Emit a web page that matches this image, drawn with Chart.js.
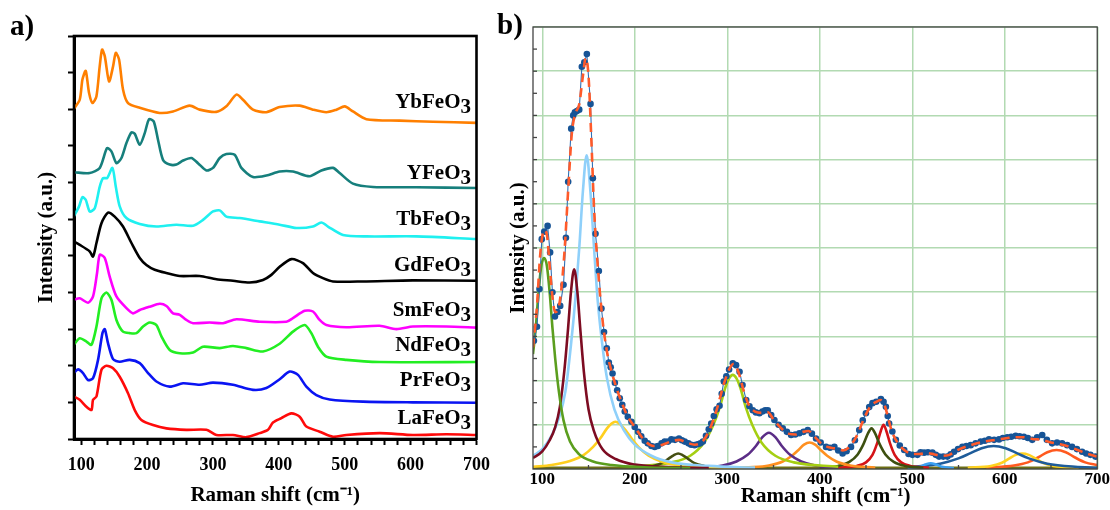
<!DOCTYPE html>
<html><head><meta charset="utf-8">
<script src="https://cdn.jsdelivr.net/npm/chart.js@4.4.0/dist/chart.umd.min.js"></script>
<style>
body{margin:0;background:#fff;width:1110px;height:510px;overflow:hidden;position:relative;font-family:"Liberation Serif","Times New Roman",serif;color:#000}
#wa{position:absolute;left:0;top:0;width:500px;height:510px}
#wb{position:absolute;left:500px;top:0;width:610px;height:510px}
.pl{position:absolute;font-weight:bold;font-size:29px;line-height:29px}
.lab{position:absolute;font-weight:bold;font-size:21px;line-height:21px;white-space:nowrap;right:639px}
.lab span{position:relative;top:5px}
</style></head>
<body>
<div id="wa"><canvas id="ca" width="500" height="510"></canvas></div>
<div id="wb"><canvas id="cb" width="610" height="510"></canvas></div>
<div class="pl" style="left:10px;top:11px">a)</div>
<div class="pl" style="left:497px;top:10px">b)</div>
<div class="lab" style="top:91px">YbFeO<span>3</span></div>
<div class="lab" style="top:162px">YFeO<span>3</span></div>
<div class="lab" style="top:208px">TbFeO<span>3</span></div>
<div class="lab" style="top:254px">GdFeO<span>3</span></div>
<div class="lab" style="top:299px">SmFeO<span>3</span></div>
<div class="lab" style="top:334px">NdFeO<span>3</span></div>
<div class="lab" style="top:369px">PrFeO<span>3</span></div>
<div class="lab" style="top:407px">LaFeO<span>3</span></div>
<script>
// ---------- Panel a data: [Raman shift, offset intensity (a.u.)] ----------
const ybFeO3 = [[88.6,9.01],[97.7,9.26],[101.8,9.81],[106.8,10.05],[111.8,9.45],[117,9.17],[123,9.35],[128,10.17],[131.6,10.63],[135.7,10.45],[142.2,9.76],[148.3,10.17],[152.4,10.54],[157.4,10.36],[163.4,9.54],[171,9.17],[188.8,9.04],[219,8.90],[239.3,8.94],[264.6,9.10],[279.8,8.99],[305,8.93],[320.3,9.08],[335.5,9.40],[345.5,9.26],[360.7,8.99],[381,8.92],[401.2,9.06],[431.6,9.10],[451.7,8.99],[472,8.92],[487.3,8.99],[500,9.08],[512.4,8.94],[532.8,8.73],[583.3,8.69],[633.8,8.66],[699.7,8.63]];
const yFeO3 = [[88.6,7.28],[112.9,7.26],[128.1,7.40],[139.2,7.94],[145.8,7.85],[153.4,7.53],[161,7.67],[168.6,8.08],[176.2,8.37],[181.2,8.33],[188.8,8.03],[196.4,8.35],[202.9,8.73],[210,8.67],[216.5,8.17],[224.1,7.62],[234.3,7.49],[244.5,7.49],[254.5,7.60],[267.2,7.67],[277.2,7.53],[290,7.33],[300,7.40],[310.2,7.67],[320.3,7.78],[332.9,7.76],[343.1,7.40],[360.7,7.15],[381,7.19],[401.2,7.30],[421.4,7.30],[446.7,7.17],[464.5,7.33],[482.1,7.40],[492.3,7.26],[512.4,6.97],[542.8,6.88],[608.6,6.87],[699.7,6.85]];
const tbFeO3 = [[88.6,6.07],[96.7,6.35],[101.8,6.60],[106.8,6.53],[112.9,6.21],[120.5,6.30],[128.1,6.89],[133.1,7.12],[139.2,7.12],[147.3,7.40],[152.4,6.89],[158.4,6.35],[168.6,6.03],[188.8,5.87],[214.1,5.80],[244.5,5.85],[269.7,5.82],[284.8,5.98],[300,6.21],[310.2,6.24],[320.3,6.07],[340.5,6.03],[370.9,5.94],[401.2,5.85],[426.6,5.76],[451.7,5.80],[464.5,5.91],[474.5,5.80],[497.3,5.57],[532.8,5.53],[608.6,5.53],[699.7,5.46]];
const gdFeO3 = [[88.6,5.39],[97.7,5.30],[112.9,5.12],[117.9,4.98],[123.1,5.35],[130.7,5.89],[140.7,6.18],[150.8,6.07],[163.4,5.80],[176.2,5.35],[188.8,4.94],[198.9,4.75],[211.5,4.62],[229.3,4.53],[249.5,4.45],[279.8,4.45],[305.2,4.36],[330.3,4.32],[355.7,4.27],[375.9,4.34],[388.6,4.48],[401.2,4.70],[419,4.91],[436.6,4.80],[451.7,4.53],[466.9,4.39],[482.1,4.30],[527.6,4.30],[603.5,4.33],[699.7,4.32]];
const smFeO3 = [[88.6,3.80],[97.7,3.84],[110.3,3.72],[117.9,3.89],[124,4.53],[128.1,5.03],[135.7,4.94],[143.2,4.43],[153.4,3.89],[168.6,3.57],[178.6,3.43],[188.8,3.52],[203.9,3.61],[219.1,3.69],[229.3,3.63],[239.3,3.43],[249.5,3.39],[259.6,3.25],[269.7,3.16],[295,3.18],[315.2,3.16],[335.5,3.27],[370.9,3.20],[411.4,3.20],[421.4,3.30],[439.2,3.50],[451.7,3.48],[461.9,3.25],[472.1,3.11],[502.4,3.05],[553,3.09],[578.3,3.00],[603.5,3.07],[654.2,3.07],[699.7,3.04]];
const ndFeO3 = [[88.6,2.57],[97.7,2.75],[107.9,2.66],[115.5,2.57],[123.1,3.07],[130.7,3.84],[138.2,4.00],[145.8,3.80],[153.4,3.25],[163.4,2.93],[173.6,2.89],[183.8,2.89],[193.8,3.07],[203.9,3.18],[214.1,3.11],[221.7,2.80],[234.3,2.43],[249.5,2.34],[269.7,2.36],[284.8,2.52],[310.2,2.48],[330.3,2.54],[350.7,2.48],[375.9,2.39],[401.2,2.60],[421.4,2.93],[439.2,3.11],[449.3,2.89],[459.3,2.52],[472.1,2.25],[502.4,2.16],[553,2.10],[699.7,2.10]];
const prFeO3 = [[88.6,1.80],[95.1,1.90],[102.7,1.80],[110.3,1.61],[117.9,1.66],[125.5,2.16],[132.2,2.89],[135.7,3.00],[140.7,2.61],[148.3,2.18],[158.4,2.11],[173.6,2.16],[188.8,2.07],[201.4,1.80],[214.1,1.57],[234.3,1.43],[254.5,1.52],[279.8,1.48],[300,1.54],[330.3,1.48],[360.7,1.34],[381,1.39],[401.2,1.63],[416.4,1.84],[429,1.75],[441.7,1.43],[456.9,1.20],[477.1,1.08],[527.6,1.02],[603.5,1.00],[699.7,0.99]];
const laFeO3 = [[88.6,1.16],[97.7,1.07],[107.9,0.88],[115.5,0.79],[117.9,1.07],[123.1,1.16],[130.7,1.89],[138.2,2.00],[148.3,1.93],[158.4,1.70],[171,1.25],[181.2,0.79],[191.3,0.52],[209,0.38],[229.3,0.29],[259.6,0.25],[290,0.25],[305.2,0.11],[330.3,0.11],[350.7,0.05],[370.9,0.16],[383.5,0.25],[391,0.45],[403.8,0.57],[419,0.70],[431.6,0.61],[441.7,0.34],[461.9,0.20],[482.1,0.06],[502.4,0.11],[553,0.16],[603.5,0.11],[654.2,0.13],[699.7,0.11]];
const samplesA = ['YbFeO3','YFeO3','TbFeO3','GdFeO3','SmFeO3','NdFeO3','PrFeO3','LaFeO3'];
const xTicksA = [100,120,140,160,180,200,220,240,260,280,300,320,340,360,380,400,420,440,460,480,500,520,540,560,580,600,620,640,660,680,700];
const yTicksA = [0,1,2,3,4,5,6,7,8,9,10,11];

// ---------- Panel b data ----------
const measured = [[91,2.9],[94.3,3.22],[97,4.07],[99.5,5.2],[102.2,5.37],[105.8,5.5],[108.5,4.9],[111,4.0],[113.7,3.45],[116.5,3.55],[119.4,3.69],[123,4.17],[125.6,5.23],[128,6.5],[131.3,7.7],[133.5,8.0],[135.3,8.07],[137.5,8.1],[140,8.13],[142.8,9.1],[145.5,9.2],[148.2,9.39],[152.2,8.26],[154.7,6.58],[157.6,5.32],[161.2,4.48],[164,3.63],[166.8,3.1],[169.8,2.73],[172,2.41],[174,2.3],[176,2.16],[178.5,1.95],[181,1.78],[183.8,1.6],[186.5,1.45],[189.2,1.3],[192.5,1.18],[196.4,1.07],[200,0.95],[203.6,0.84],[207,0.74],[210.8,0.64],[214,0.58],[218,0.52],[221.6,0.5],[225,0.52],[229,0.58],[232.4,0.62],[236,0.62],[239.6,0.67],[243.5,0.66],[247.8,0.69],[251,0.65],[254,0.62],[258,0.58],[261,0.55],[264.7,0.54],[268,0.56],[271,0.58],[273.7,0.62],[277,0.75],[280,0.9],[282.7,1.03],[285.5,1.2],[288.5,1.35],[291.7,1.43],[294,1.7],[296.3,1.98],[299,2.1],[302,2.25],[306,2.39],[309.5,2.35],[313.3,2.2],[316.5,1.9],[320.5,1.56],[324,1.42],[327.6,1.33],[331,1.28],[334.8,1.26],[338,1.3],[341,1.33],[343.8,1.33],[347.5,1.22],[351,1.11],[355.5,1.0],[360,0.92],[364.5,0.84],[369,0.77],[373.5,0.78],[378,0.81],[382.5,0.84],[387,0.88],[391.5,0.8],[396,0.69],[401,0.6],[406.8,0.5],[411,0.48],[415.8,0.5],[420,0.42],[424.7,0.35],[429,0.4],[433.8,0.5],[438,0.65],[442.7,0.88],[446.5,1.1],[449.9,1.26],[453.5,1.4],[457,1.49],[461,1.52],[466.1,1.58],[469,1.52],[471.5,1.41],[473.5,1.2],[475,1.03],[478.5,0.85],[482.3,0.66],[486.5,0.53],[491.3,0.43],[496,0.34],[500.2,0.32],[505.6,0.32],[509,0.38],[512.8,0.37],[517,0.38],[521.8,0.37],[525.5,0.32],[529,0.28],[533.5,0.28],[538,0.28],[541.5,0.33],[545.2,0.39],[549.5,0.45],[554.2,0.5],[558.5,0.52],[563.2,0.54],[568.5,0.58],[574,0.62],[578.5,0.64],[583,0.67],[588.5,0.66],[593.8,0.67],[598,0.7],[602.7,0.72],[607,0.73],[611.8,0.75],[616,0.74],[620.7,0.73],[625,0.7],[629.7,0.66],[635,0.72],[640.5,0.77],[645.5,0.66],[651.2,0.58],[656.5,0.6],[662,0.58],[667.5,0.54],[672.8,0.5],[678,0.45],[683.6,0.39],[688,0.35],[692.6,0.32],[698,0.28]];
const fitted = [[90,2.75],[94,3.6],[98,4.9],[102,5.4],[105,5.3],[108,4.6],[111,3.9],[114,3.55],[117,3.6],[120,3.95],[124,4.9],[128,6.3],[132,7.6],[136,8.05],[140,8.25],[144,8.9],[147,9.3],[150,8.9],[153,7.5],[156,5.9],[160,4.6],[165,3.4],[170,2.65],[175,2.2],[180,1.85],[186,1.5],[192,1.2],[200,0.95],[210,0.66],[220,0.52],[230,0.55],[240,0.63],[248,0.66],[256,0.6],[265,0.55],[273,0.62],[280,0.85],[288,1.3],[296,1.9],[302,2.25],[307,2.38],[312,2.2],[318,1.75],[324,1.42],[330,1.3],[338,1.27],[344,1.28],[350,1.12],[358,0.93],[366,0.8],[374,0.78],[382,0.84],[388,0.86],[394,0.74],[402,0.57],[410,0.49],[418,0.46],[425,0.42],[432,0.5],[440,0.75],[448,1.15],[455,1.42],[461,1.52],[466,1.56],[470,1.45],[474,1.15],[478,0.85],[484,0.6],[492,0.42],[500,0.34],[508,0.34],[516,0.36],[524,0.33],[532,0.3],[540,0.32],[550,0.44],[560,0.52],[570,0.58],[580,0.63],[590,0.66],[600,0.69],[610,0.72],[620,0.72],[630,0.68],[640,0.66],[650,0.6],[660,0.56],[670,0.5],[680,0.42],[690,0.34],[700,0.28]];
const peak102 = [[90,2.6],[93,3.2],[96,4.0],[99,4.6],[102,4.77],[105,4.6],[108,4.0],[111,3.2],[114,2.5],[118,1.75],[123,1.1],[130,0.62],[140,0.33],[155,0.17],[175,0.09],[210,0.04],[260,0.02]];
const peak135 = [[90,0.25],[100,0.4],[108,0.65],[114,0.95],[119,1.4],[124,2.25],[128,3.2],[131,4.0],[134.5,4.52],[138,4.0],[141,3.2],[145,2.2],[150,1.35],[156,0.85],[165,0.45],[180,0.22],[200,0.1],[230,0.05],[280,0.02]];
const peak148 = [[90,0.3],[100,0.45],[110,0.75],[118,1.15],[125,1.75],[131,2.8],[136,3.9],[140,5.0],[144,6.3],[148,7.1],[152,6.3],[156,5.0],[160,3.8],[165,2.8],[170,2.05],[178,1.35],[189,0.85],[200,0.55],[218,0.3],[240,0.15],[280,0.07],[330,0.03]];
const peak179 = [[90,0.05],[110,0.09],[130,0.18],[145,0.32],[155,0.5],[163,0.7],[170,0.92],[175,1.03],[179,1.07],[184,1.02],[190,0.88],[197,0.68],[205,0.48],[215,0.3],[230,0.16],[250,0.08],[280,0.04],[330,0.02]];
const peak247 = [[205,0.03],[220,0.07],[230,0.14],[237,0.24],[242,0.31],[247,0.35],[252,0.31],[257,0.24],[264,0.14],[275,0.07],[290,0.03]];
const peak306 = [[200,0.05],[240,0.15],[260,0.3],[275,0.6],[285,1.0],[292,1.4],[298,1.85],[302,2.05],[306,2.13],[310,2.05],[314,1.85],[320,1.4],[327,1.0],[337,0.6],[352,0.3],[372,0.15],[420,0.05]];
const peak345 = [[270,0.03],[295,0.08],[310,0.17],[322,0.32],[331,0.52],[338,0.72],[345,0.82],[352,0.72],[359,0.52],[368,0.32],[380,0.17],[395,0.08],[420,0.03]];
const peak389 = [[320,0.03],[345,0.08],[360,0.17],[370,0.3],[377,0.43],[383,0.55],[389,0.6],[395,0.55],[401,0.43],[408,0.3],[418,0.17],[433,0.08],[460,0.03]];
const peak456 = [[400,0.03],[420,0.07],[432,0.16],[441,0.33],[447,0.55],[452,0.8],[456,0.92],[460,0.8],[465,0.55],[471,0.33],[480,0.16],[492,0.07],[512,0.03]];
const peak469 = [[420,0.03],[440,0.07],[450,0.15],[457,0.32],[462,0.58],[466,0.86],[469,1.0],[472,0.86],[476,0.58],[481,0.32],[488,0.15],[498,0.07],[518,0.03]];
const peak520 = [[495,0.02],[508,0.05],[514,0.1],[520,0.13],[526,0.1],[532,0.05],[545,0.02]];
const peak588 = [[500,0.05],[530,0.12],[550,0.24],[563,0.36],[575,0.47],[588,0.52],[601,0.47],[613,0.36],[626,0.24],[646,0.12],[676,0.05],[700,0.03]];
const peak619 = [[560,0.03],[585,0.07],[597,0.14],[605,0.24],[612,0.32],[619,0.35],[626,0.32],[633,0.24],[641,0.14],[653,0.07],[680,0.03]];
const peak656 = [[580,0.03],[610,0.08],[625,0.15],[636,0.26],[646,0.38],[656,0.43],[666,0.38],[676,0.26],[687,0.15],[700,0.09]];
const baseline = [[90,0.02],[700,0.02]];
const xTicksB = [100,200,300,400,500,600,700];
const yTicksB = [0,1,2,3,4,5,6,7,8,9,10];
const xMinorB = [150,250,350,450,550,650];
const yMinorB = [0.5,1,1.5,2,2.5,3,3.5,4,4.5,5,5.5,6,6.5,7,7.5,8,8.5,9,9.5];

// ---------- styling ----------
const FONT = '"Liberation Serif","Times New Roman",serif';
const pts = a => a.map(([x, y]) => ({x, y}));
const colorsA = ['#ff7f00','#167f7c','#1ff0f0','#000000','#ff00ff','#22ee22','#0a14f2','#ff0a0a'];
const seriesA = [ybFeO3, yFeO3, tbFeO3, gdFeO3, smFeO3, ndFeO3, prFeO3, laFeO3];

const framePlugin = {
  id: 'frame',
  afterDatasetsDraw(chart, args, o) {
    const {ctx, chartArea: a, scales} = chart;
    ctx.save();
    ctx.strokeStyle = o.color; ctx.lineWidth = o.width;
    ctx.strokeRect(a.left, a.top, a.right - a.left, a.bottom - a.top);
    if (o.xMinor) {
      ctx.lineWidth = 1.3;
      o.xMinor.forEach(v => { const p = scales.x.getPixelForValue(v); ctx.beginPath(); ctx.moveTo(p, a.bottom); ctx.lineTo(p, a.bottom - o.len); ctx.stroke(); });
    }
    if (o.yMinor) {
      ctx.lineWidth = 1.3;
      o.yMinor.forEach(v => { const p = scales.y.getPixelForValue(v); ctx.beginPath(); ctx.moveTo(a.left, p); ctx.lineTo(a.left + o.len, p); ctx.stroke(); });
    }
    ctx.restore();
  }
};

new Chart(document.getElementById('ca'), {
  type: 'line',
  data: { datasets: seriesA.map((s, i) => ({ label: samplesA[i], data: pts(s), borderColor: colorsA[i], borderWidth: 2.6, pointRadius: 0, tension: 0.25, fill: false })) },
  options: {
    responsive: false, animation: false,
    layout: { padding: { left: 0, top: 36, right: 22.5, bottom: 0 } },
    plugins: { legend: { display: false }, tooltip: { enabled: false }, frame: { color: '#000', width: 2.6 } },
    scales: {
      x: { type: 'linear', min: 89, max: 700,
        afterBuildTicks: s => { s.ticks = xTicksA.map(v => ({value: v})); },
        afterFit: s => { s.height = 71; },
        ticks: { autoSkip: false, maxRotation: 0, padding: 10, color: '#000', font: { family: FONT, size: 18, weight: 'bold' }, callback: v => (v % 100 === 0 ? String(v) : '') },
        grid: { drawOnChartArea: false, drawTicks: true, tickLength: 6, tickWidth: 2, tickColor: '#000' },
        border: { display: true, color: '#000', width: 3 },
        title: { display: true, text: 'Raman shift (cm⁻¹)', color: '#000', font: { family: FONT, size: 21, weight: 'bold' }, padding: { top: 0, bottom: 1.4 } } },
      y: { type: 'linear', min: 0, max: 11,
        afterBuildTicks: s => { s.ticks = yTicksA.map(v => ({value: v})); },
        afterFit: s => { s.width = 74; },
        ticks: { display: false },
        grid: { drawOnChartArea: false, drawTicks: true, tickLength: 6, tickWidth: 2, tickColor: '#000' },
        border: { display: true, color: '#000', width: 3 },
        title: { display: true, text: 'Intensity (a.u.)', color: '#000', font: { family: FONT, size: 21, weight: 'bold' }, padding: { top: 33.5, bottom: 0 } } }
    }
  },
  plugins: [framePlugin]
});

const compsB = [peak102, peak135, peak148, peak179, peak247, peak306, peak345, peak389, peak456, peak469, peak520, peak588, peak619, peak656];
const compColors = ['#5b9e1e','#7d0c22','#8fd0fa','#ffcf1f','#454f12','#a5cf12','#5b2d86','#ff9020','#3d5010','#d41418','#3aa0f0','#1e5c9a','#ffd21f','#ff5a20'];
const dsB = [
  { label: 'Fit', data: pts(fitted), borderColor: '#ff5a2a', borderWidth: 2.6, borderDash: [9, 6], pointRadius: 0, cubicInterpolationMode: 'monotone', fill: false },
  { label: 'Measured', data: pts(measured), borderColor: '#2f6fb5', borderWidth: 1.1, pointRadius: 3.3, pointBackgroundColor: '#175496', pointBorderWidth: 0, tension: 0, fill: false }
].concat(compsB.map((c, i) => ({ label: 'Peak ' + i, data: pts(c), borderColor: compColors[i], borderWidth: 2.6, pointRadius: 0, cubicInterpolationMode: 'monotone', fill: false })))
 .concat([{ label: 'Baseline', data: pts(baseline), borderColor: '#6e7016', borderWidth: 3, pointRadius: 0, fill: false }]);

new Chart(document.getElementById('cb'), {
  type: 'line',
  data: { datasets: dsB },
  options: {
    responsive: false, animation: false,
    layout: { padding: { left: 0, top: 27, right: 12, bottom: 0 } },
    plugins: { legend: { display: false }, tooltip: { enabled: false }, frame: { color: '#444', width: 1.3, len: 4, xMinor: xMinorB, yMinor: yMinorB } },
    scales: {
      x: { type: 'linear', min: 90, max: 700,
        afterBuildTicks: s => { s.ticks = xTicksB.map(v => ({value: v})); },
        afterFit: s => { s.height = 41; },
        ticks: { autoSkip: false, maxRotation: 0, padding: 0, color: '#000', font: { family: FONT, size: 17, weight: 'bold' } },
        grid: { color: '#b2dab2', lineWidth: 1.5, drawTicks: false },
        border: { display: false },
        title: { display: true, text: '\u2002\u2002Raman shift (cm⁻¹)', color: '#000', font: { family: FONT, size: 21, weight: 'bold' }, padding: { top: 0, bottom: 0.5 } } },
      y: { type: 'linear', min: 0, max: 10,
        afterBuildTicks: s => { s.ticks = yTicksB.map(v => ({value: v})); },
        afterFit: s => { s.width = 33; },
        ticks: { display: false },
        grid: { color: '#b2dab2', lineWidth: 1.5, drawTicks: false },
        border: { display: false },
        title: { display: true, text: 'Intensity (a.u.)', color: '#000', font: { family: FONT, size: 21, weight: 'bold' }, padding: { top: 6.4, bottom: 0 } } }
    }
  },
  plugins: [framePlugin]
});
</script>
</body></html>
